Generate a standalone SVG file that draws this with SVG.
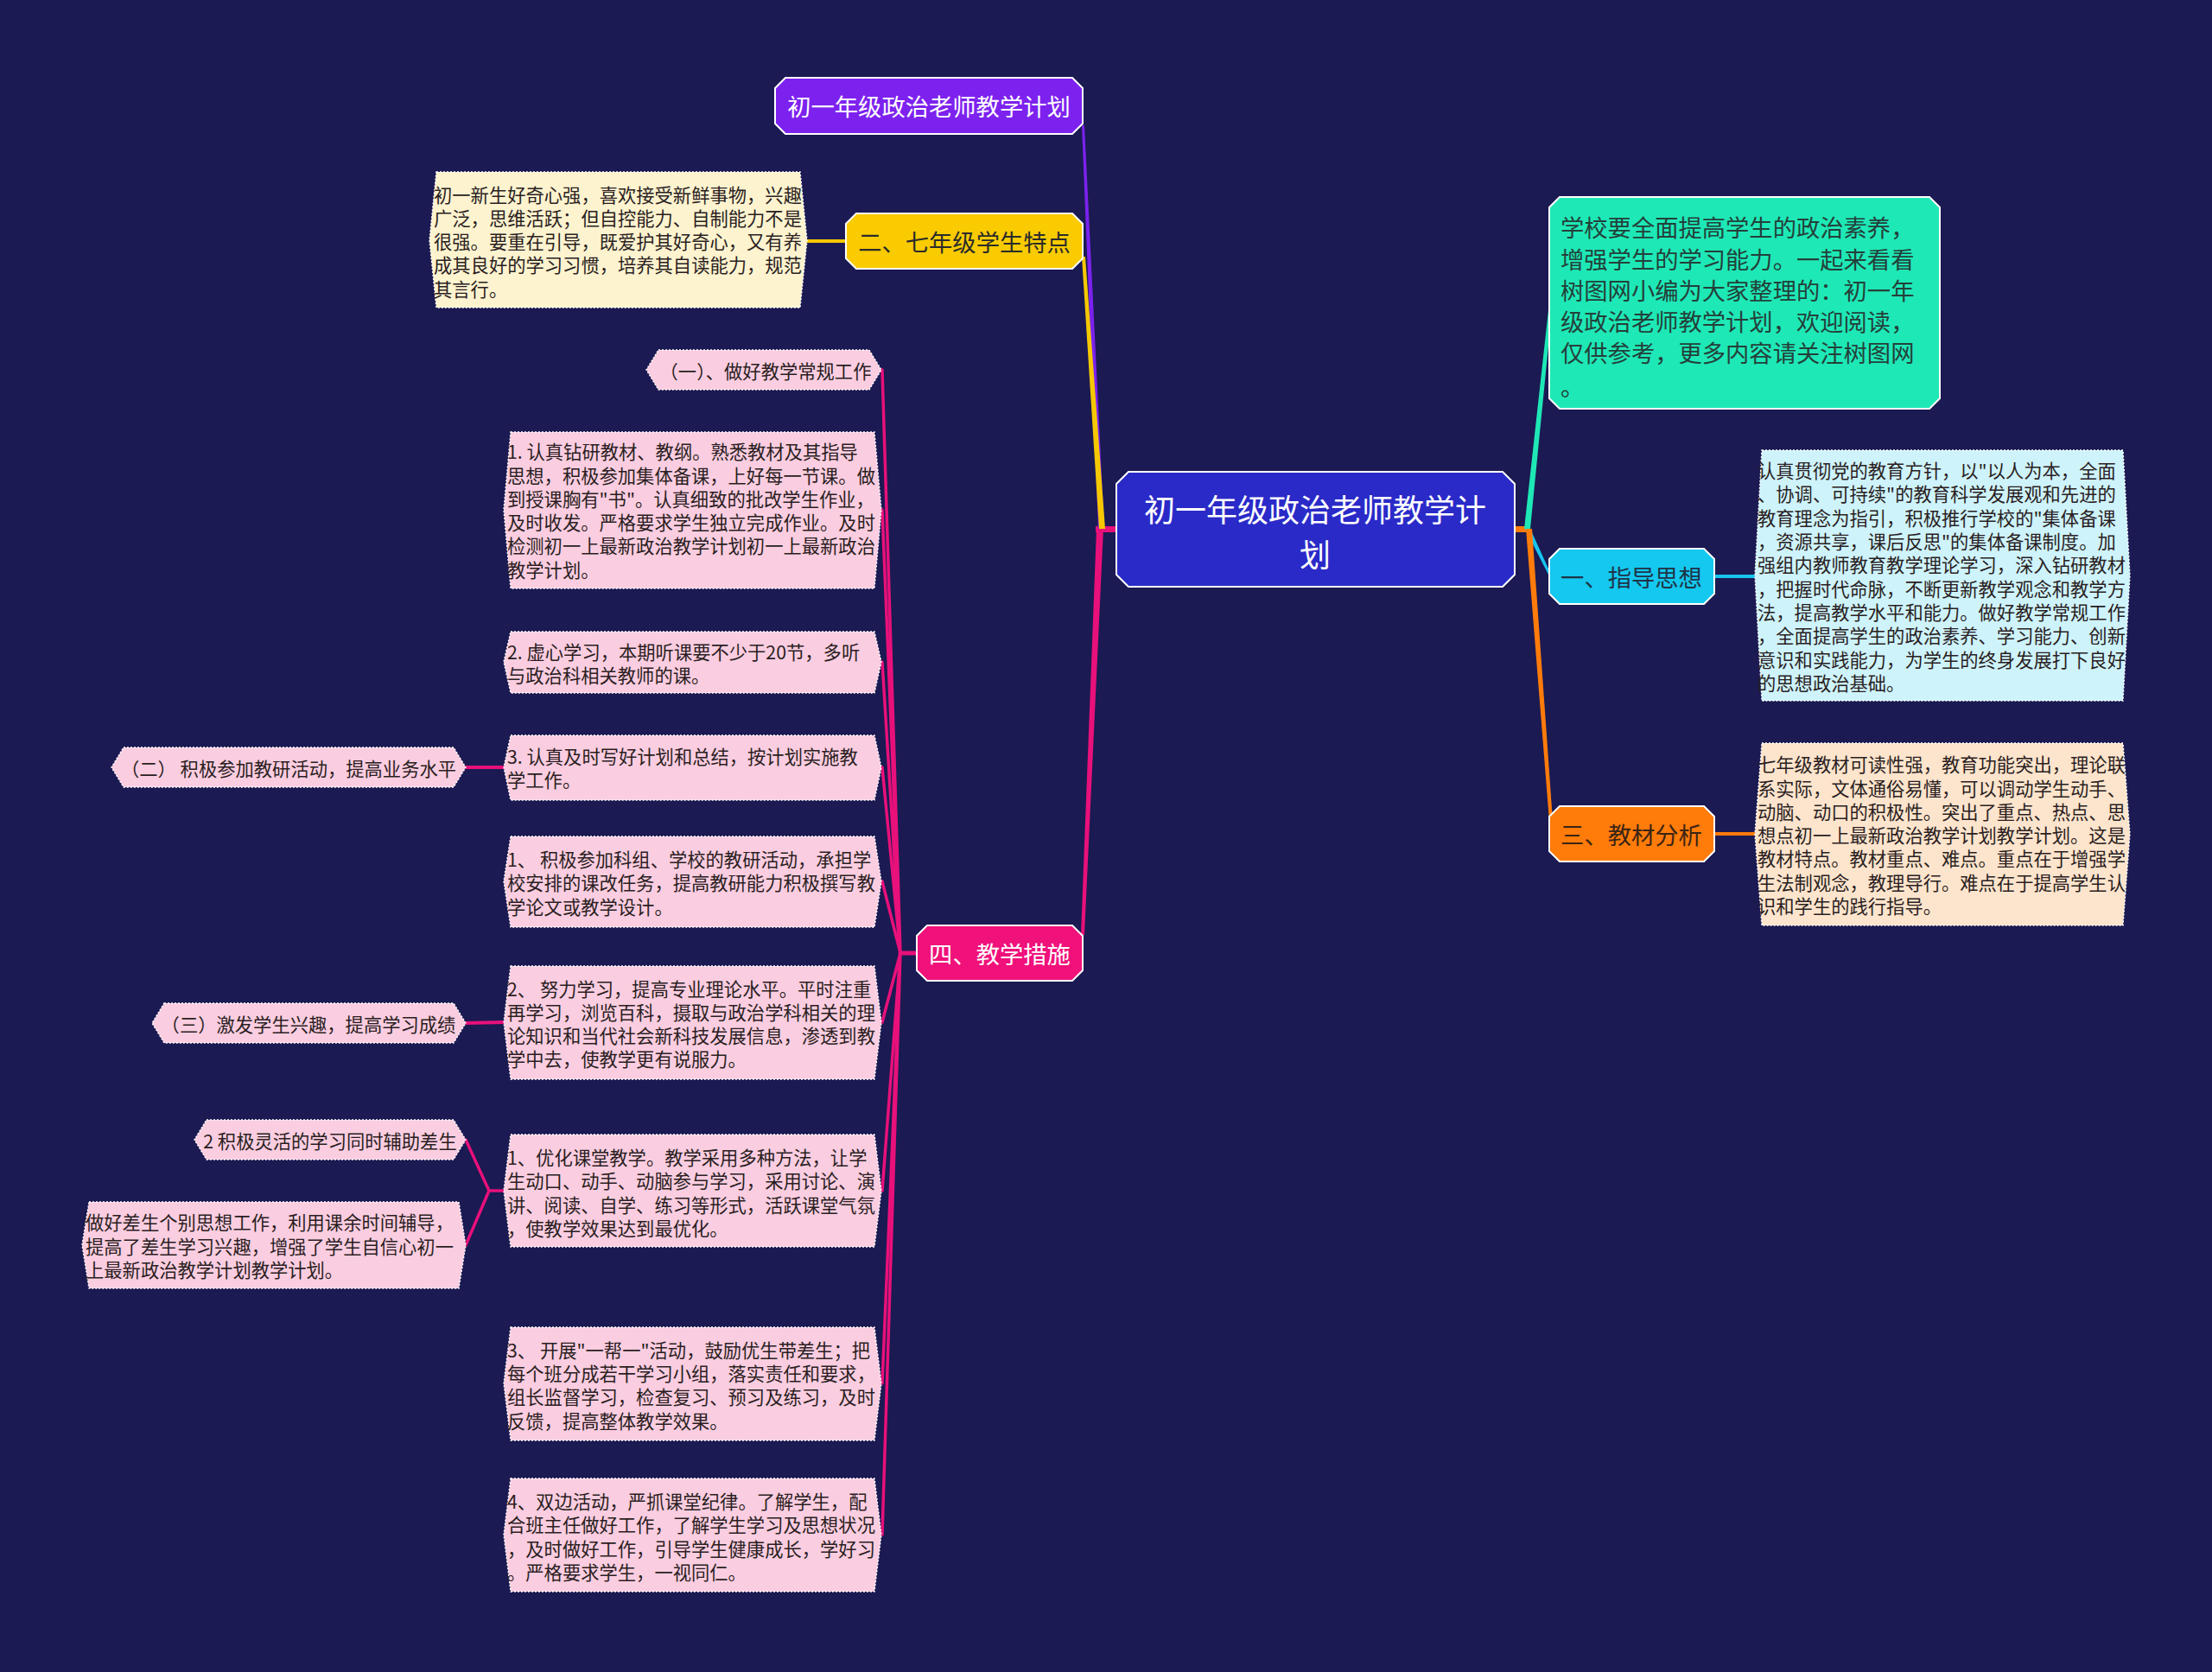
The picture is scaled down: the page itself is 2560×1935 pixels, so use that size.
<svg xmlns="http://www.w3.org/2000/svg" width="2560" height="1935" viewBox="0 0 2560 1935">
<style>
text{font-family:"Noto Sans CJK SC","Noto Sans",sans-serif;dominant-baseline:central}
.main{font-size:27.3px}
.leaf{font-size:21.3px;fill:#2a1e22}
.w{fill:#ffffff}
.d{fill:#2b2b2b}
.lf{stroke:#ffffff;stroke-width:1.4;stroke-dasharray:2 2}
.mn{stroke:#ffffff;stroke-width:2}
.c{text-anchor:middle}
.pk{stroke:#e8107a;fill:none;stroke-linecap:round}
</style>
<rect x="0" y="0" width="2560" height="1935" fill="#1b1a52"/>

<g id="connectors">
  <rect x="1268" y="609" width="25" height="7" fill="#e8107a"/>
  <polygon points="1271,612 1278,612 1255,145 1252,145" fill="#7b22ee"/>
  <polygon points="1272,612 1279,612 1256,297 1252,297" fill="#f5c800"/>
  <polygon points="1269,612 1277,612 1255,1082 1251,1082" fill="#e8107a"/>
  <rect x="1752" y="609" width="19" height="7" fill="#ff7b0a"/>
  <polygon points="1764,612 1771,612 1797,350 1793,350" fill="#1ee8b6"/>
  <polygon points="1765,612 1772,614 1796,667 1793,667" fill="#18c4ee"/>
  <polygon points="1766,612 1773,612 1797,950 1793,950" fill="#ff7b0a"/>
  <line x1="980" y1="279" x2="932" y2="279" stroke="#f5c800" stroke-width="4"/>
  <line x1="1984" y1="667" x2="2033" y2="667" stroke="#18c4ee" stroke-width="4"/>
  <line x1="1984" y1="965" x2="2033" y2="965" stroke="#ff7b0a" stroke-width="4"/>
  <line x1="1062" y1="1103" x2="1042" y2="1103" class="pk" stroke-width="5"/>
  <path class="pk" stroke-width="3.5" d="M1042,1103 L1021,428 M1042,1103 L1021,590 M1042,1103 L1021,766 M1042,1103 L1021,888 M1042,1103 L1021,1020 M1042,1103 L1021,1183 M1042,1103 L1021,1378 M1042,1103 L1021,1601 M1042,1103 L1021,1776"/>
  <line x1="584" y1="888" x2="538" y2="888" class="pk" stroke-width="4"/>
  <line x1="584" y1="1183" x2="538" y2="1184" class="pk" stroke-width="4"/>
  <path class="pk" stroke-width="3.5" d="M584,1378 L566,1378 L539,1319 M566,1378 L539,1441"/>
</g>

<g id="root">
  <polygon class="mn" points="1306,546 1739,546 1753,560 1753,665 1739,679 1306,679 1292,665 1292,560" fill="#2a2ac8" stroke="#4d7cf0"/>
  <text class="c w" x="1522" y="588" font-size="36">初一年级政治老师教学计</text>
  <text class="c w" x="1522" y="640" font-size="36">划</text>
</g>

<g id="n-title">
  <polygon class="mn" points="909,90 1241,90 1253,102 1253,143 1241,155 909,155 897,143 897,102" fill="#7d22ee"/>
  <text class="main c w" x="1075" y="122">初一年级政治老师教学计划</text>
</g>

<g id="n-er">
  <polygon class="mn" points="991,247 1241,247 1253,259 1253,299 1241,311 991,311 979,299 979,259" fill="#f9cb00"/>
  <text class="main c d" x="1116" y="279">二、七年级学生特点</text>
</g>
<g id="n-er-text">
  <polygon class="lf" points="505,199 926,199 934,278 926,356 505,356 497,278" fill="#fdf3cf"/>
  <text class="leaf" x="502" y="224">初一新生好奇心强，喜欢接受新鲜事物，兴趣</text>
  <text class="leaf" x="502" y="251">广泛，思维活跃；但自控能力、自制能力不是</text>
  <text class="leaf" x="502" y="278">很强。要重在引导，既爱护其好奇心，又有养</text>
  <text class="leaf" x="502" y="305">成其良好的学习习惯，培养其自读能力，规范</text>
  <text class="leaf" x="502" y="333">其言行。</text>
</g>

<g id="n-intro">
  <polygon class="mn" points="1805,228 2233,228 2245,240 2245,461 2233,473 1805,473 1793,461 1793,240" fill="#1ee8b6"/>
  <text class="main" x="1806" y="262" fill="#24403a">学校要全面提高学生的政治素养，</text>
  <text class="main" x="1806" y="299" fill="#24403a">增强学生的学习能力。一起来看看</text>
  <text class="main" x="1806" y="335" fill="#24403a">树图网小编为大家整理的：初一年</text>
  <text class="main" x="1806" y="371" fill="#24403a">级政治老师教学计划，欢迎阅读，</text>
  <text class="main" x="1806" y="407" fill="#24403a">仅供参考，更多内容请关注树图网</text>
  <text class="main" x="1806" y="446" fill="#24403a">。</text>
</g>

<g id="n-yi">
  <polygon class="mn" points="1805,635 1972,635 1984,647 1984,687 1972,699 1805,699 1793,687 1793,647" fill="#14c8ef"/>
  <text class="main c" x="1888" y="667" fill="#1f3346">一、指导思想</text>
</g>
<g id="n-yi-text">
  <polygon class="lf" points="2039,521 2457,521 2465,666 2457,811 2039,811 2031,666" fill="#cef3fb"/>
  <text class="leaf" x="2034" y="543">认真贯彻党的教育方针，以"以人为本，全面</text>
  <text class="leaf" x="2034" y="570">、协调、可持续"的教育科学发展观和先进的</text>
  <text class="leaf" x="2034" y="598">教育理念为指引，积极推行学校的"集体备课</text>
  <text class="leaf" x="2034" y="625">，资源共享，课后反思"的集体备课制度。加</text>
  <text class="leaf" x="2034" y="652">强组内教师教育教学理论学习，深入钻研教材</text>
  <text class="leaf" x="2034" y="680">，把握时代命脉，不断更新教学观念和教学方</text>
  <text class="leaf" x="2034" y="707">法，提高教学水平和能力。做好教学常规工作</text>
  <text class="leaf" x="2034" y="734">，全面提高学生的政治素养、学习能力、创新</text>
  <text class="leaf" x="2034" y="762">意识和实践能力，为学生的终身发展打下良好</text>
  <text class="leaf" x="2034" y="789">的思想政治基础。</text>
</g>

<g id="n-san">
  <polygon class="mn" points="1805,933 1972,933 1984,945 1984,985 1972,997 1805,997 1793,985 1793,945" fill="#ff7b0a"/>
  <text class="main c" x="1888" y="965" fill="#3a2414">三、教材分析</text>
</g>
<g id="n-san-text">
  <polygon class="lf" points="2039,860 2457,860 2465,965 2457,1071 2039,1071 2031,965" fill="#fde4cc"/>
  <text class="leaf" x="2034" y="883">七年级教材可读性强，教育功能突出，理论联</text>
  <text class="leaf" x="2034" y="911">系实际，文体通俗易懂，可以调动学生动手、</text>
  <text class="leaf" x="2034" y="938">动脑、动口的积极性。突出了重点、热点、思</text>
  <text class="leaf" x="2034" y="965">想点初一上最新政治教学计划教学计划。这是</text>
  <text class="leaf" x="2034" y="992">教材特点。教材重点、难点。重点在于增强学</text>
  <text class="leaf" x="2034" y="1020">生法制观念，教理导行。难点在于提高学生认</text>
  <text class="leaf" x="2034" y="1047">识和学生的践行指导。</text>
</g>

<g id="n-si">
  <polygon class="mn" points="1073,1071 1241,1071 1253,1083 1253,1123 1241,1135 1073,1135 1061,1123 1061,1083" fill="#f0117a"/>
  <text class="main c w" x="1157" y="1103">四、教学措施</text>
</g>

<g id="n-s1">
  <polygon class="lf" points="762,405 1006,405 1020,428 1006,451 762,451 748,428" fill="#fbcde0"/>
  <text class="leaf c" x="886" y="428">（一）、做好教学常规工作</text>
</g>
<g id="n-s2">
  <polygon class="lf" points="591,500 1012,500 1020,590 1012,681 591,681 583,590" fill="#fbcde0"/>
  <text class="leaf" x="587" y="521">1. 认真钻研教材、教纲。熟悉教材及其指导</text>
  <text class="leaf" x="587" y="549">思想，积极参加集体备课，上好每一节课。做</text>
  <text class="leaf" x="587" y="576">到授课胸有"书"。认真细致的批改学生作业，</text>
  <text class="leaf" x="587" y="603">及时收发。严格要求学生独立完成作业。及时</text>
  <text class="leaf" x="587" y="630">检测初一上最新政治教学计划初一上最新政治</text>
  <text class="leaf" x="587" y="658">教学计划。</text>
</g>
<g id="n-s3">
  <polygon class="lf" points="591,731 1012,731 1020,766 1012,802 591,802 583,766" fill="#fbcde0"/>
  <text class="leaf" x="587" y="753">2. 虚心学习，本期听课要不少于20节，多听</text>
  <text class="leaf" x="587" y="780">与政治科相关教师的课。</text>
</g>
<g id="n-s4">
  <polygon class="lf" points="591,851 1012,851 1020,888 1012,926 591,926 583,888" fill="#fbcde0"/>
  <text class="leaf" x="587" y="874">3. 认真及时写好计划和总结，按计划实施教</text>
  <text class="leaf" x="587" y="901">学工作。</text>
</g>
<g id="n-s4a">
  <polygon class="lf" points="143,865 525,865 539,888 525,911 143,911 129,888" fill="#fbcde0"/>
  <text class="leaf c" x="334" y="888">（二） 积极参加教研活动，提高业务水平</text>
</g>
<g id="n-s5">
  <polygon class="lf" points="591,968 1012,968 1020,1020 1012,1073 591,1073 583,1020" fill="#fbcde0"/>
  <text class="leaf" x="587" y="993">1、 积极参加科组、学校的教研活动，承担学</text>
  <text class="leaf" x="587" y="1020">校安排的课改任务，提高教研能力积极撰写教</text>
  <text class="leaf" x="587" y="1048">学论文或教学设计。</text>
</g>
<g id="n-s6">
  <polygon class="lf" points="591,1118 1012,1118 1020,1183 1012,1249 591,1249 583,1183" fill="#fbcde0"/>
  <text class="leaf" x="587" y="1143">2、 努力学习，提高专业理论水平。平时注重</text>
  <text class="leaf" x="587" y="1170">再学习，浏览百科，摄取与政治学科相关的理</text>
  <text class="leaf" x="587" y="1197">论知识和当代社会新科技发展信息，渗透到教</text>
  <text class="leaf" x="587" y="1224">学中去，使教学更有说服力。</text>
</g>
<g id="n-s6a">
  <polygon class="lf" points="190,1161 525,1161 539,1184 525,1207 190,1207 176,1184" fill="#fbcde0"/>
  <text class="leaf c" x="357" y="1184">（三）激发学生兴趣，提高学习成绩</text>
</g>
<g id="n-s7">
  <polygon class="lf" points="591,1313 1012,1313 1020,1378 1012,1443 591,1443 583,1378" fill="#fbcde0"/>
  <text class="leaf" x="587" y="1338">1、优化课堂教学。教学采用多种方法，让学</text>
  <text class="leaf" x="587" y="1365">生动口、动手、动脑参与学习，采用讨论、演</text>
  <text class="leaf" x="587" y="1393">讲、阅读、自学、练习等形式，活跃课堂气氛</text>
  <text class="leaf" x="587" y="1420">，使教学效果达到最优化。</text>
</g>
<g id="n-s7a">
  <polygon class="lf" points="239,1296 525,1296 539,1319 525,1342 239,1342 225,1319" fill="#fbcde0"/>
  <text class="leaf c" x="382" y="1319">2 积极灵活的学习同时辅助差生</text>
</g>
<g id="n-s7b">
  <polygon class="lf" points="103,1391 531,1391 539,1441 531,1491 103,1491 95,1441" fill="#fbcde0"/>
  <text class="leaf" x="99" y="1413">做好差生个别思想工作，利用课余时间辅导，</text>
  <text class="leaf" x="99" y="1441">提高了差生学习兴趣，增强了学生自信心初一</text>
  <text class="leaf" x="99" y="1468">上最新政治教学计划教学计划。</text>
</g>
<g id="n-s8">
  <polygon class="lf" points="591,1536 1012,1536 1020,1601 1012,1667 591,1667 583,1601" fill="#fbcde0"/>
  <text class="leaf" x="587" y="1561">3、 开展"一帮一"活动，鼓励优生带差生；把</text>
  <text class="leaf" x="587" y="1588">每个班分成若干学习小组，落实责任和要求，</text>
  <text class="leaf" x="587" y="1615">组长监督学习，检查复习、预习及练习，及时</text>
  <text class="leaf" x="587" y="1643">反馈，提高整体教学效果。</text>
</g>
<g id="n-s9">
  <polygon class="lf" points="591,1711 1012,1711 1020,1776 1012,1842 591,1842 583,1776" fill="#fbcde0"/>
  <text class="leaf" x="587" y="1736">4、双边活动，严抓课堂纪律。了解学生，配</text>
  <text class="leaf" x="587" y="1763">合班主任做好工作，了解学生学习及思想状况</text>
  <text class="leaf" x="587" y="1791">，及时做好工作，引导学生健康成长，学好习</text>
  <text class="leaf" x="587" y="1818">。严格要求学生，一视同仁。</text>
</g>
</svg>
